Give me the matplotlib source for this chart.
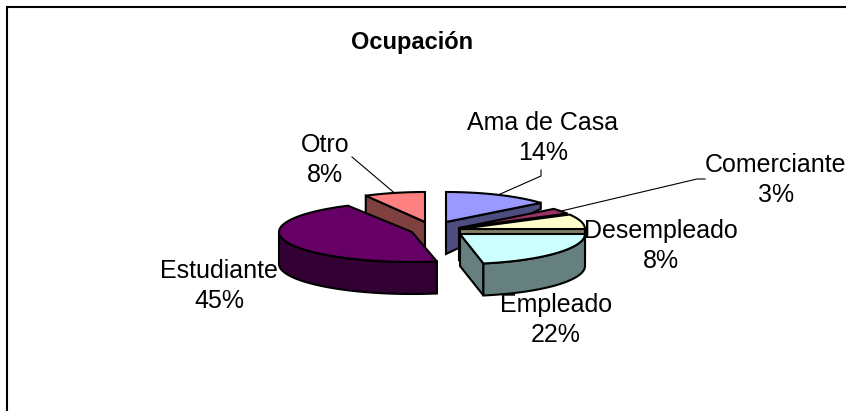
import numpy as np
import matplotlib
matplotlib.use("Agg")
import matplotlib.pyplot as plt
from matplotlib.patches import Polygon, Rectangle

plt.rcParams['font.family'] = ['Liberation Sans', 'DejaVu Sans']

categories = ["Ama de Casa", "Comerciante", "Desempleado", "Empleado", "Estudiante", "Otro"]
values = [14, 3, 8, 22, 45, 8]
top_colors = ["#9999ff", "#993366", "#ffffcc", "#ccffff", "#660066", "#ff8080"]
side_colors = ["#4d4d80", "#4d1a33", "#808066", "#668080", "#330033", "#804040"]
title = "Ocupación"

# pixel layout of the exploded slices: centre x, centre y, radius x
centers = [(446, 222, 123), (459, 228, 123), (460, 229, 125),
           (460, 234, 125), (412, 232, 133), (425, 222, 123)]
label_pos = [(543, 138), (776, 180), (661, 246), (556, 320), (219, 286), (325, 160)]
RY = 30
DEPTH = 32

fig = plt.figure(figsize=(8.46, 4.11), dpi=100)
ax = fig.add_axes([0, 0, 1, 1])
ax.set_xlim(0, 846)
ax.set_ylim(411, 0)
ax.axis('off')

ax.add_patch(Rectangle((7, 7), 900, 500, fc='white', ec='black', lw=1.5))


def arc(i, a0, a1):
    cx, cy, rx = centers[i]
    t = np.radians(np.linspace(a0, a1, 60))
    return np.column_stack([cx + rx * np.sin(t), cy - RY * np.cos(t)])


# slice start/end angles, clockwise from 12 o'clock
edges = np.concatenate([[0], np.cumsum(values)]) * 3.6

# back to front
for i in [5, 0, 1, 2, 3, 4]:
    a0, a1 = edges[i], edges[i + 1]
    cx, cy, rx = centers[i]
    apex = np.array([cx, cy], dtype=float)
    top = arc(i, a0, a1)

    # radial wall, the far end is shallower on Ama de Casa (perspective)
    if i != 4:
        end = top[0] if i == 5 else top[-1]
        far = 6 if i == 0 else DEPTH
        wall = [apex, end, end + [0, far], apex + [0, DEPTH]]
        ax.add_patch(Polygon(wall, fc=side_colors[i], ec='black', lw=1.5, zorder=3))

    # outer wall, lower half of the ellipse only
    lo, hi = max(a0, 90), min(a1, 270)
    if hi > lo:
        rim = arc(i, lo, hi)
        ax.add_patch(Polygon(np.vstack([rim, rim[::-1] + [0, DEPTH]]), fc=side_colors[i], ec='black', lw=1.5, zorder=3))

    ax.add_patch(Polygon(np.vstack([apex, top]), fc=top_colors[i], ec='black', lw=1.5, zorder=3))

# leader lines start at the middle of the rim
mid = (edges[:-1] + edges[1:]) / 2
p = arc(0, mid[0], mid[0])[0]
ax.plot([p[0], 541, 541], [p[1], 176, 170], color='black', lw=0.8, zorder=4)
p = arc(1, mid[1], mid[1])[0]
ax.plot([p[0], 697, 705], [p[1], 179, 179], color='black', lw=0.8, zorder=4)
p = arc(5, mid[5], mid[5])[0]
ax.plot([p[0], 352], [p[1], 157], color='black', lw=0.8, zorder=4)

for name, val, (x, y) in zip(categories, values, label_pos):
    ax.text(x, y, f"{name}\n{val}%", ha='center', va='center', fontsize=18,
            linespacing=1.35, color='black', zorder=5)

ax.text(412, 42, title, ha='center', va='center', fontsize=17, fontweight='bold', zorder=5)

fig.savefig("out.png", dpi=100)
